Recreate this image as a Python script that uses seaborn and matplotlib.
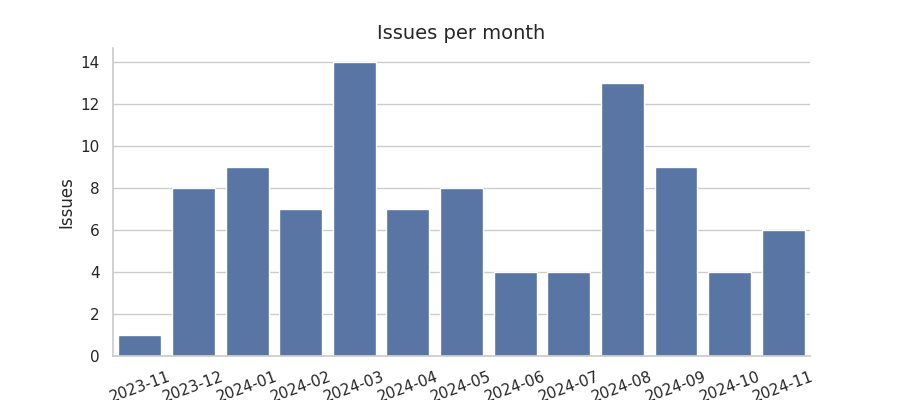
import matplotlib
matplotlib.use("Agg")
import matplotlib.pyplot as plt
import seaborn as sns
import pandas as pd

months = ["2023-11", "2023-12", "2024-01", "2024-02", "2024-03", "2024-04", "2024-05",
          "2024-06", "2024-07", "2024-08", "2024-09", "2024-10", "2024-11"]
issues = [1, 8, 9, 7, 14, 7, 8, 4, 4, 13, 9, 4, 6]

sns.set_theme(style="whitegrid")
df = pd.DataFrame({"month": months, "issues": issues})

fig = plt.figure(figsize=(9, 4), dpi=100)
ax = fig.add_axes([0.1256, 0.11, 0.7744, 0.7705])
sns.barplot(data=df, x="month", y="issues", color="#4C72B0", ax=ax)
ax.set_title("Issues per month", fontsize=14)
ax.set_xlabel("")
ax.set_ylabel("Issues", fontsize=12)
ax.tick_params(axis="x", rotation=20)
ax.set_ylim(0, 14.7)
ax.xaxis.grid(False)
sns.despine(ax=ax)
fig.savefig("out.png", dpi=100)
